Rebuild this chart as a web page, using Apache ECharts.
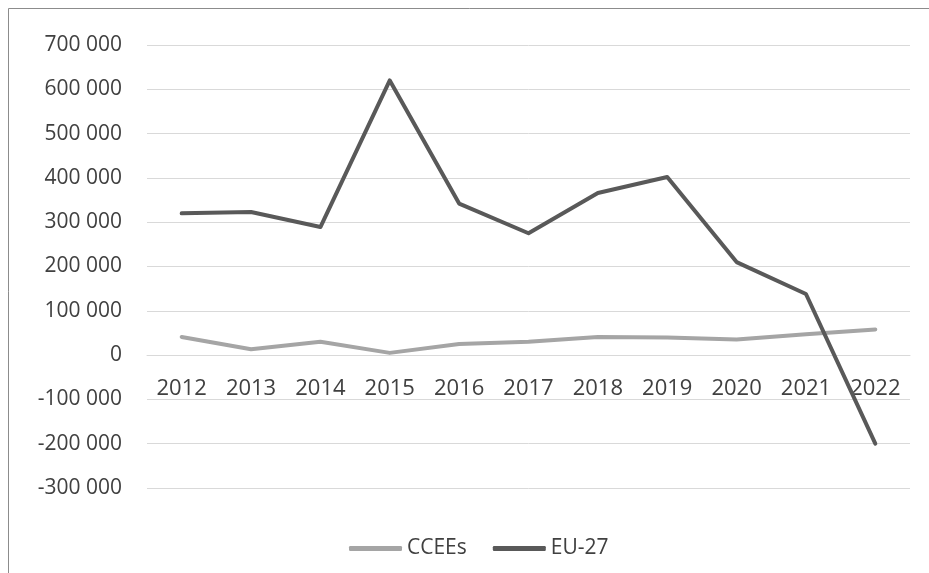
<!DOCTYPE html>
<html>
<head>
<meta charset="utf-8">
<script src="https://cdn.jsdelivr.net/npm/echarts@6/dist/echarts.min.js"></script>
<style>
  html, body { margin: 0; padding: 0; background: #ffffff; }
  #chart { width: 929px; height: 573px; }
</style>
</head>
<body>
<div id="chart"></div>
<script>
// Years on the category axis
const years = ['2012', '2013', '2014', '2015', '2016', '2017', '2018', '2019', '2020', '2021', '2022'];

// Series values
const ccees = [41000, 13000, 30000, 5000, 25000, 30000, 41000, 40000, 35000, 47000, 58000];
const eu27 = [320000, 323000, 289000, 620000, 342000, 275000, 366000, 402000, 210000, 138000, -200000];

// Value axis range
const yMin = -300000;
const yMax = 700000;
const yStep = 100000;

const textColor = '#404040';
const fontFamily = '"Open Sans", "Noto Sans", sans-serif';

// Plot area
const W = 929, H = 573;
const gridTop = 45, gridBottom = 85, gridLeft = 147, gridRight = 19;
const plotH = H - gridTop - gridBottom;
// Lift the category axis from the bottom edge to the zero line
const zeroOffset = -plotH * (0 - yMin) / (yMax - yMin);

// Thousands separated by a space, e.g. "-100 000"
function fmt(v) {
  const s = Math.abs(v).toString().replace(/\B(?=(\d{3})+(?!\d))/g, ' ');
  return (v < 0 ? '-' : '') + s;
}

const chart = echarts.init(document.getElementById('chart'), null, { renderer: 'canvas' });

chart.setOption({
  animation: false,
  backgroundColor: '#ffffff',
  textStyle: { fontFamily: fontFamily },
  graphic: [{
    type: 'rect',
    shape: { x: 8.5, y: 8.5, width: 940, height: 600 },
    style: { fill: 'none', stroke: '#8c8c8c', lineWidth: 1 },
    silent: true,
    z: -10
  }],
  grid: { left: gridLeft, right: gridRight, top: gridTop, bottom: gridBottom, containLabel: false },
  legend: {
    bottom: 9,
    left: 344,
    itemWidth: 53,
    itemHeight: 5,
    itemGap: 26,
    icon: 'roundRect',
    textStyle: { color: textColor, fontSize: 21, fontFamily: fontFamily },
    data: ['CCEEs', 'EU-27']
  },
  xAxis: {
    type: 'category',
    data: years,
    boundaryGap: true,
    position: 'bottom',
    offset: zeroOffset,
    axisLine: { show: true, onZero: false, lineStyle: { color: '#d9d9d9', width: 1 } },
    axisTick: { show: false },
    axisLabel: { color: textColor, fontSize: 22, margin: 23, interval: 0, fontFamily: fontFamily },
    splitLine: { show: false }
  },
  yAxis: {
    type: 'value',
    min: yMin,
    max: yMax,
    interval: yStep,
    axisLine: { show: false },
    axisTick: { show: false },
    axisLabel: { color: textColor, fontSize: 21, margin: 25, formatter: fmt, fontFamily: fontFamily },
    splitLine: { show: true, lineStyle: { color: '#d9d9d9', width: 1 } }
  },
  series: [
    {
      name: 'CCEEs',
      type: 'line',
      data: ccees,
      symbol: 'none',
      itemStyle: { color: '#a5a5a5' },
      lineStyle: { color: '#a5a5a5', width: 4, cap: 'round', join: 'round' },
      z: 3
    },
    {
      name: 'EU-27',
      type: 'line',
      data: eu27,
      symbol: 'none',
      itemStyle: { color: '#595959' },
      lineStyle: { color: '#595959', width: 4, cap: 'round', join: 'round' },
      z: 4
    }
  ]
});
</script>
</body>
</html>
